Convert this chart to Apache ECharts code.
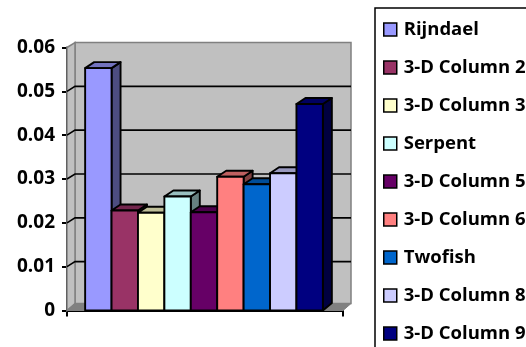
<!DOCTYPE html>
<html>
<head>
<meta charset="utf-8">
<style>html,body{margin:0;padding:0;background:#fff}#chart{width:526px;height:347px}</style>
<script src="https://cdn.jsdelivr.net/npm/echarts@6/dist/echarts.min.js"></script>
</head>
<body>
<div id="chart"></div>
<script>
// Cipher timings shown as one cluster of 3-D columns
const seriesNames = ['Rijndael', '3-D Column 2', '3-D Column 3', 'Serpent', '3-D Column 5', '3-D Column 6', 'Twofish', '3-D Column 8', '3-D Column 9'];
const seriesValues = [0.0553, 0.0228, 0.0223, 0.026, 0.0224, 0.0305, 0.0288, 0.0313, 0.0471];
const seriesColors = ['#9999FF', '#993366', '#FFFFCC', '#CCFFFF', '#660066', '#FF8080', '#0066CC', '#CCCCFF', '#000080'];
const gridTicks = [0.01, 0.02, 0.03, 0.04, 0.05];
const categories = [''];

const FONT = '"Open Sans", Lato, sans-serif';
const OUTLINE = '#000';

function shade(hex, f) {
  const n = parseInt(hex.slice(1), 16);
  const c = [(n >> 16) & 255, (n >> 8) & 255, n & 255].map(v => Math.round(v * f));
  return 'rgb(' + c.join(',') + ')';
}

// Side wall, back wall, floor and receding gridlines
function renderWalls(params, api) {
  const box = params.coordSys;
  const L = box.x, R = box.x + box.width, T = box.y, B = box.y + box.height;
  const dx = 8, dy = 5;
  const wall = { fill: '#C0C0C0', stroke: '#808080', lineWidth: 1.5 };
  const kids = [
    { type: 'polygon', shape: { points: [[L + dx, T - dy], [R + dx, T - dy], [R + dx, B - 7], [L + dx, B - 7]] }, style: wall },
    { type: 'polygon', shape: { points: [[L, T], [L + dx, T - dy], [L + dx, B - 7], [L, B]] }, style: wall },
    { type: 'polygon', shape: { points: [[L, B], [L + dx, B - 7], [R + dx, B - 7], [R, B]] }, style: { fill: '#808080', stroke: '#808080', lineWidth: 1 } }
  ];
  gridTicks.forEach(v => {
    const y = api.coord([0, v])[1];
    kids.push({
      type: 'polyline',
      shape: { points: [[L, y], [L + dx, y - dy], [R + dx, y - dy]] },
      style: { fill: null, stroke: '#000', lineWidth: 1.6 }
    });
  });
  return { type: 'group', children: kids };
}

// One column: front face plus shaded top and side faces
function renderColumn(index) {
  return function (params, api) {
    const band = api.size([1, 0])[0];
    const w = band * 0.0957;
    const cx = api.coord([0, 0])[0] - 1;
    const x0 = cx + (index - seriesNames.length / 2) * w;
    const x1 = x0 + w;
    const yTop = api.coord([0, api.value(1)])[1];
    const yBase = api.coord([0, 0])[1];
    const dx = 9, dy = 6;
    const color = seriesColors[index];
    const edge = { stroke: OUTLINE, lineWidth: 1.9, lineJoin: 'round' };
    return {
      type: 'group',
      children: [
        { type: 'polygon', shape: { points: [[x1, yTop], [x1 + dx, yTop - dy], [x1 + dx, yBase - 7.5], [x1, yBase]] }, style: Object.assign({ fill: shade(color, 0.5) }, edge) },
        { type: 'polygon', shape: { points: [[x0, yTop], [x0 + dx, yTop - dy], [x1 + dx, yTop - dy], [x1, yTop]] }, style: Object.assign({ fill: shade(color, 0.75) }, edge) },
        { type: 'rect', shape: { x: x0, y: yTop, width: w, height: yBase - yTop }, style: Object.assign({ fill: color }, edge) }
      ]
    };
  };
}

const series = [{
  type: 'custom',
  name: 'walls',
  silent: true,
  clip: false,
  renderItem: renderWalls,
  data: [[0, 0]]
}];
seriesNames.forEach((name, i) => {
  series.push({
    type: 'custom',
    name: name,
    clip: false,
    renderItem: renderColumn(i),
    encode: { x: 0, y: 1 },
    itemStyle: { color: seriesColors[i] },
    data: [[0, seriesValues[i]]]
  });
});

const chart = echarts.init(document.getElementById('chart'), null, { renderer: 'canvas' });
chart.setOption({
  animation: false,
  backgroundColor: '#fff',
  grid: { left: 67, top: 47.5, width: 276, height: 263, containLabel: false },
  xAxis: {
    type: 'category',
    data: categories,
    boundaryGap: true,
    axisLine: { show: true, onZero: false, lineStyle: { color: '#000', width: 2 } },
    axisTick: { show: true, length: 6, alignWithLabel: false, lineStyle: { color: '#000', width: 2 } },
    axisLabel: { show: false },
    splitLine: { show: false }
  },
  yAxis: {
    type: 'value',
    min: 0,
    max: 0.06,
    interval: 0.01,
    axisLine: { show: true, lineStyle: { color: '#000', width: 2 } },
    axisTick: { show: true, length: 5, lineStyle: { color: '#000', width: 2 } },
    axisLabel: { color: '#000', fontFamily: FONT, fontWeight: 'bold', fontSize: 19, margin: 12, padding: [6, 0, 0, 0] },
    splitLine: { show: false }
  },
  legend: {
    data: seriesNames,
    orient: 'vertical',
    left: 375,
    top: 8,
    height: 400,
    padding: [12, 20, 30, 8],
    itemWidth: 13,
    itemHeight: 13,
    itemGap: 19,
    icon: 'rect',
    selectedMode: false,
    borderColor: '#000',
    borderWidth: 1.5,
    itemStyle: { borderColor: '#000', borderWidth: 1.5 },
    textStyle: { color: '#000', fontFamily: FONT, fontWeight: 'bold', fontSize: 18.5, lineHeight: 19, padding: [0, 0, 0, 2] }
  },
  series: series
});
</script>
</body>
</html>
